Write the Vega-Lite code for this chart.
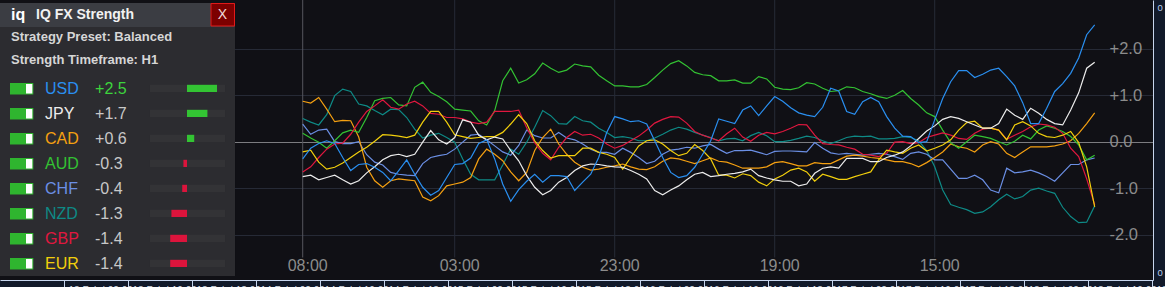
{
  "$schema": "https://vega.github.io/schema/vega-lite/v6.json",
  "width": 1153,
  "height": 280,
  "autosize": {"type": "none"},
  "padding": {"left": 0, "top": 0, "right": 12, "bottom": 7},
  "background": "#121a2a",
  "config": {"view": {"stroke": null, "fill": "#101015"}, "font": "Liberation Sans"},
  "datasets": {
    "times": [{"h":0,"t":"08:00"},{"h":19,"t":"03:00"},{"h":39,"t":"23:00"},{"h":59,"t":"19:00"},{"h":79,"t":"15:00"}],
    "strength": [{"c":"USD","s":2.5},{"c":"JPY","s":1.7},{"c":"CAD","s":0.6},{"c":"AUD","s":-0.3},{"c":"CHF","s":-0.4},{"c":"NZD","s":-1.3},{"c":"GBP","s":-1.4},{"c":"EUR","s":-1.4}],
    "fx": [
{"h":0,"USD":-0.37,"JPY":-0.75,"CAD":0.87,"AUD":0.18,"CHF":0.38,"NZD":0.50,"GBP":-0.65,"EUR":-0.22},
{"h":1,"USD":-0.14,"JPY":-0.72,"CAD":0.83,"AUD":0.08,"CHF":0.16,"NZD":0.42,"GBP":-0.54,"EUR":-0.18},
{"h":2,"USD":-0.04,"JPY":-0.82,"CAD":0.95,"AUD":-0.01,"CHF":0.25,"NZD":0.36,"GBP":-0.34,"EUR":-0.44},
{"h":3,"USD":0.02,"JPY":-0.77,"CAD":0.70,"AUD":-0.14,"CHF":0.27,"NZD":0.58,"GBP":-0.16,"EUR":-0.59},
{"h":4,"USD":-0.04,"JPY":-0.72,"CAD":0.43,"AUD":0.02,"CHF":0.00,"NZD":0.99,"GBP":-0.05,"EUR":-0.55},
{"h":5,"USD":-0.34,"JPY":-0.82,"CAD":0.46,"AUD":0.19,"CHF":-0.04,"NZD":1.13,"GBP":-0.03,"EUR":-0.46},
{"h":6,"USD":-0.62,"JPY":-0.91,"CAD":0.45,"AUD":0.25,"CHF":-0.04,"NZD":1.08,"GBP":0.16,"EUR":-0.34},
{"h":7,"USD":-0.49,"JPY":-0.84,"CAD":0.10,"AUD":0.20,"CHF":0.00,"NZD":0.81,"GBP":0.42,"EUR":-0.22},
{"h":8,"USD":-0.47,"JPY":-0.67,"CAD":-0.55,"AUD":0.52,"CHF":-0.28,"NZD":0.77,"GBP":0.65,"EUR":-0.12},
{"h":9,"USD":-0.55,"JPY":-0.54,"CAD":-0.84,"AUD":0.88,"CHF":-0.44,"NZD":0.67,"GBP":0.77,"EUR":0.01},
{"h":10,"USD":-0.66,"JPY":-0.39,"CAD":-0.98,"AUD":0.93,"CHF":-0.50,"NZD":0.58,"GBP":0.90,"EUR":0.15},
{"h":11,"USD":-0.84,"JPY":-0.30,"CAD":-0.84,"AUD":0.95,"CHF":-0.66,"NZD":0.70,"GBP":0.74,"EUR":0.14},
{"h":12,"USD":-0.62,"JPY":-0.27,"CAD":-0.80,"AUD":0.79,"CHF":-0.70,"NZD":0.69,"GBP":0.70,"EUR":0.12},
{"h":13,"USD":-0.39,"JPY":-0.32,"CAD":-0.82,"AUD":0.77,"CHF":-0.72,"NZD":0.52,"GBP":0.81,"EUR":0.09},
{"h":14,"USD":-0.70,"JPY":-0.27,"CAD":-0.84,"AUD":1.17,"CHF":-0.73,"NZD":0.27,"GBP":0.87,"EUR":0.14},
{"h":15,"USD":-0.98,"JPY":-0.01,"CAD":-1.19,"AUD":1.28,"CHF":-0.47,"NZD":0.08,"GBP":0.77,"EUR":0.42},
{"h":16,"USD":-1.15,"JPY":0.24,"CAD":-1.27,"AUD":1.06,"CHF":-0.34,"NZD":0.14,"GBP":0.61,"EUR":0.65},
{"h":17,"USD":-1.05,"JPY":0.04,"CAD":-1.16,"AUD":0.97,"CHF":-0.30,"NZD":0.18,"GBP":0.59,"EUR":0.65},
{"h":18,"USD":-0.77,"JPY":-0.05,"CAD":-0.95,"AUD":0.86,"CHF":-0.27,"NZD":0.09,"GBP":0.52,"EUR":0.42},
{"h":19,"USD":-0.49,"JPY":0.09,"CAD":-0.91,"AUD":0.70,"CHF":-0.16,"NZD":-0.01,"GBP":0.52,"EUR":0.15},
{"h":20,"USD":-0.47,"JPY":0.47,"CAD":-0.87,"AUD":0.68,"CHF":-0.01,"NZD":-0.37,"GBP":0.49,"EUR":0.11},
{"h":21,"USD":-0.35,"JPY":0.42,"CAD":-0.77,"AUD":0.66,"CHF":0.14,"NZD":-0.70,"GBP":0.42,"EUR":0.07},
{"h":22,"USD":-0.04,"JPY":0.14,"CAD":-0.37,"AUD":0.45,"CHF":0.16,"NZD":-0.82,"GBP":0.39,"EUR":0.09},
{"h":23,"USD":0.04,"JPY":0.04,"CAD":-0.16,"AUD":0.36,"CHF":0.04,"NZD":-0.82,"GBP":0.42,"EUR":0.11},
{"h":24,"USD":-0.37,"JPY":0.10,"CAD":-0.27,"AUD":0.67,"CHF":-0.09,"NZD":-0.82,"GBP":0.65,"EUR":0.11},
{"h":25,"USD":-0.91,"JPY":0.06,"CAD":-0.41,"AUD":1.31,"CHF":-0.22,"NZD":-0.50,"GBP":0.65,"EUR":0.20},
{"h":26,"USD":-1.28,"JPY":-0.19,"CAD":-0.65,"AUD":1.58,"CHF":-0.29,"NZD":-0.16,"GBP":0.65,"EUR":0.38},
{"h":27,"USD":-1.03,"JPY":-0.41,"CAD":-0.84,"AUD":1.26,"CHF":-0.08,"NZD":-0.27,"GBP":0.68,"EUR":0.58},
{"h":28,"USD":-0.85,"JPY":-0.73,"CAD":-0.66,"AUD":1.33,"CHF":0.25,"NZD":-0.01,"GBP":0.30,"EUR":0.39},
{"h":29,"USD":-0.70,"JPY":-0.98,"CAD":-0.19,"AUD":1.46,"CHF":0.13,"NZD":0.31,"GBP":-0.02,"EUR":0.02},
{"h":30,"USD":-0.87,"JPY":-1.14,"CAD":0.09,"AUD":1.69,"CHF":0.08,"NZD":0.67,"GBP":-0.25,"EUR":-0.19},
{"h":31,"USD":-0.73,"JPY":-1.05,"CAD":0.27,"AUD":1.58,"CHF":0.08,"NZD":0.56,"GBP":-0.39,"EUR":-0.35},
{"h":32,"USD":-0.73,"JPY":-0.87,"CAD":-0.05,"AUD":1.49,"CHF":0.20,"NZD":0.39,"GBP":-0.12,"EUR":-0.30},
{"h":33,"USD":-0.75,"JPY":-0.77,"CAD":-0.27,"AUD":1.54,"CHF":0.08,"NZD":0.38,"GBP":0.09,"EUR":-0.30},
{"h":34,"USD":-1.05,"JPY":-0.62,"CAD":-0.44,"AUD":1.67,"CHF":0.04,"NZD":0.54,"GBP":0.22,"EUR":-0.30},
{"h":35,"USD":-0.87,"JPY":-0.52,"CAD":-0.55,"AUD":1.63,"CHF":-0.05,"NZD":0.45,"GBP":0.14,"EUR":-0.14},
{"h":36,"USD":-0.70,"JPY":-0.48,"CAD":-0.61,"AUD":1.61,"CHF":-0.16,"NZD":0.42,"GBP":0.16,"EUR":-0.14},
{"h":37,"USD":-0.34,"JPY":-0.49,"CAD":-0.59,"AUD":1.43,"CHF":-0.23,"NZD":0.29,"GBP":0.08,"EUR":-0.23},
{"h":38,"USD":0.20,"JPY":-0.52,"CAD":-0.55,"AUD":1.31,"CHF":-0.23,"NZD":0.20,"GBP":-0.05,"EUR":-0.27},
{"h":39,"USD":0.54,"JPY":-0.54,"CAD":-0.52,"AUD":1.20,"CHF":-0.27,"NZD":0.09,"GBP":-0.14,"EUR":-0.34},
{"h":40,"USD":0.49,"JPY":-0.55,"CAD":-0.48,"AUD":1.20,"CHF":-0.14,"NZD":0.11,"GBP":-0.08,"EUR":-0.59},
{"h":41,"USD":0.43,"JPY":-0.62,"CAD":-0.54,"AUD":1.18,"CHF":-0.23,"NZD":0.08,"GBP":0.02,"EUR":-0.34},
{"h":42,"USD":0.45,"JPY":-0.70,"CAD":-0.59,"AUD":1.18,"CHF":-0.34,"NZD":0.02,"GBP":0.12,"EUR":-0.09},
{"h":43,"USD":0.38,"JPY":-0.80,"CAD":-0.60,"AUD":1.23,"CHF":-0.47,"NZD":0.02,"GBP":0.25,"EUR":0.02},
{"h":44,"USD":0.02,"JPY":-1.05,"CAD":-0.54,"AUD":1.38,"CHF":-0.42,"NZD":0.08,"GBP":0.40,"EUR":0.04},
{"h":45,"USD":-0.34,"JPY":-1.14,"CAD":-0.42,"AUD":1.54,"CHF":-0.27,"NZD":0.16,"GBP":0.48,"EUR":-0.05},
{"h":46,"USD":-0.66,"JPY":-1.04,"CAD":-0.35,"AUD":1.68,"CHF":-0.18,"NZD":0.25,"GBP":0.54,"EUR":-0.19},
{"h":47,"USD":-0.77,"JPY":-0.95,"CAD":-0.37,"AUD":1.74,"CHF":-0.16,"NZD":0.31,"GBP":0.53,"EUR":-0.30},
{"h":48,"USD":-0.73,"JPY":-0.82,"CAD":-0.42,"AUD":1.63,"CHF":-0.12,"NZD":0.27,"GBP":0.40,"EUR":-0.25},
{"h":49,"USD":-0.55,"JPY":-0.70,"CAD":-0.47,"AUD":1.49,"CHF":-0.14,"NZD":0.20,"GBP":0.22,"EUR":-0.06},
{"h":50,"USD":-0.27,"JPY":-0.66,"CAD":-0.41,"AUD":1.44,"CHF":-0.09,"NZD":0.14,"GBP":0.14,"EUR":-0.19},
{"h":51,"USD":0.02,"JPY":-0.75,"CAD":-0.35,"AUD":1.42,"CHF":-0.06,"NZD":0.09,"GBP":0.08,"EUR":-0.37},
{"h":52,"USD":0.49,"JPY":-0.73,"CAD":-0.42,"AUD":1.31,"CHF":-0.16,"NZD":0.02,"GBP":0.02,"EUR":-0.72},
{"h":53,"USD":0.44,"JPY":-0.70,"CAD":-0.44,"AUD":1.31,"CHF":-0.25,"NZD":0.06,"GBP":0.17,"EUR":-0.72},
{"h":54,"USD":0.39,"JPY":-0.68,"CAD":-0.50,"AUD":1.33,"CHF":-0.19,"NZD":0.07,"GBP":0.29,"EUR":-0.78},
{"h":55,"USD":0.68,"JPY":-0.65,"CAD":-0.57,"AUD":1.26,"CHF":-0.19,"NZD":0.02,"GBP":0.10,"EUR":-0.69},
{"h":56,"USD":0.77,"JPY":-0.59,"CAD":-0.57,"AUD":1.26,"CHF":-0.18,"NZD":0.13,"GBP":0.01,"EUR":-0.73},
{"h":57,"USD":0.56,"JPY":-0.73,"CAD":-0.57,"AUD":1.40,"CHF":-0.23,"NZD":0.20,"GBP":0.14,"EUR":-0.87},
{"h":58,"USD":0.77,"JPY":-0.78,"CAD":-0.54,"AUD":1.35,"CHF":-0.28,"NZD":0.13,"GBP":0.20,"EUR":-0.95},
{"h":59,"USD":0.97,"JPY":-0.82,"CAD":-0.45,"AUD":1.17,"CHF":-0.21,"NZD":0.00,"GBP":0.17,"EUR":-0.80},
{"h":60,"USD":0.87,"JPY":-0.85,"CAD":-0.43,"AUD":1.13,"CHF":-0.20,"NZD":0.00,"GBP":0.22,"EUR":-0.72},
{"h":61,"USD":0.73,"JPY":-0.85,"CAD":-0.47,"AUD":1.12,"CHF":-0.20,"NZD":0.03,"GBP":0.29,"EUR":-0.61},
{"h":62,"USD":0.62,"JPY":-0.95,"CAD":-0.52,"AUD":1.16,"CHF":-0.21,"NZD":0.07,"GBP":0.37,"EUR":-0.57},
{"h":63,"USD":0.57,"JPY":-0.91,"CAD":-0.52,"AUD":1.27,"CHF":-0.22,"NZD":0.12,"GBP":0.36,"EUR":-0.65},
{"h":64,"USD":0.54,"JPY":-0.68,"CAD":-0.45,"AUD":1.24,"CHF":-0.02,"NZD":0.09,"GBP":0.14,"EUR":-0.85},
{"h":65,"USD":0.74,"JPY":-0.57,"CAD":-0.47,"AUD":1.15,"CHF":-0.14,"NZD":0.02,"GBP":-0.04,"EUR":-0.70},
{"h":66,"USD":1.15,"JPY":-0.54,"CAD":-0.47,"AUD":1.08,"CHF":-0.24,"NZD":-0.04,"GBP":-0.06,"EUR":-0.75},
{"h":67,"USD":1.09,"JPY":-0.57,"CAD":-0.39,"AUD":1.10,"CHF":-0.27,"NZD":0.02,"GBP":-0.07,"EUR":-0.81},
{"h":68,"USD":0.65,"JPY":-0.36,"CAD":-0.31,"AUD":1.18,"CHF":-0.25,"NZD":0.09,"GBP":-0.12,"EUR":-0.81},
{"h":69,"USD":0.59,"JPY":-0.36,"CAD":-0.29,"AUD":1.16,"CHF":-0.27,"NZD":0.12,"GBP":-0.16,"EUR":-0.75},
{"h":70,"USD":0.86,"JPY":-0.36,"CAD":-0.31,"AUD":1.08,"CHF":-0.29,"NZD":0.11,"GBP":-0.27,"EUR":-0.70},
{"h":71,"USD":0.95,"JPY":-0.43,"CAD":-0.34,"AUD":1.03,"CHF":-0.27,"NZD":0.12,"GBP":-0.29,"EUR":-0.65},
{"h":72,"USD":0.86,"JPY":-0.43,"CAD":-0.36,"AUD":0.97,"CHF":-0.25,"NZD":0.06,"GBP":-0.32,"EUR":-0.39},
{"h":73,"USD":0.54,"JPY":-0.34,"CAD":-0.39,"AUD":0.93,"CHF":-0.27,"NZD":0.06,"GBP":-0.25,"EUR":-0.18},
{"h":74,"USD":0.29,"JPY":-0.29,"CAD":-0.43,"AUD":1.00,"CHF":-0.32,"NZD":0.07,"GBP":-0.01,"EUR":-0.22},
{"h":75,"USD":0.12,"JPY":-0.22,"CAD":-0.43,"AUD":1.10,"CHF":-0.38,"NZD":0.11,"GBP":0.00,"EUR":-0.25},
{"h":76,"USD":0.11,"JPY":-0.09,"CAD":-0.47,"AUD":0.93,"CHF":-0.25,"NZD":0.09,"GBP":-0.04,"EUR":-0.14},
{"h":77,"USD":-0.02,"JPY":0.07,"CAD":-0.54,"AUD":0.79,"CHF":-0.22,"NZD":0.02,"GBP":-0.02,"EUR":-0.07},
{"h":78,"USD":0.00,"JPY":0.23,"CAD":-0.45,"AUD":0.62,"CHF":-0.27,"NZD":-0.19,"GBP":0.09,"EUR":-0.20},
{"h":79,"USD":0.47,"JPY":0.34,"CAD":-0.34,"AUD":0.54,"CHF":-0.39,"NZD":-0.54,"GBP":0.14,"EUR":-0.14},
{"h":80,"USD":0.93,"JPY":0.48,"CAD":-0.22,"AUD":0.25,"CHF":-0.39,"NZD":-1.04,"GBP":0.19,"EUR":-0.07},
{"h":81,"USD":1.29,"JPY":0.54,"CAD":-0.05,"AUD":-0.02,"CHF":-0.59,"NZD":-1.35,"GBP":0.14,"EUR":0.04},
{"h":82,"USD":1.53,"JPY":0.50,"CAD":-0.11,"AUD":-0.14,"CHF":-0.79,"NZD":-1.41,"GBP":0.07,"EUR":0.25},
{"h":83,"USD":1.53,"JPY":0.43,"CAD":-0.14,"AUD":0.00,"CHF":-0.79,"NZD":-1.46,"GBP":0.05,"EUR":0.41},
{"h":84,"USD":1.38,"JPY":0.36,"CAD":-0.22,"AUD":0.14,"CHF":-0.72,"NZD":-1.54,"GBP":0.18,"EUR":0.44},
{"h":85,"USD":1.45,"JPY":0.29,"CAD":-0.07,"AUD":0.11,"CHF":-0.82,"NZD":-1.51,"GBP":0.27,"EUR":0.29},
{"h":86,"USD":1.54,"JPY":0.29,"CAD":0.00,"AUD":0.07,"CHF":-1.04,"NZD":-1.40,"GBP":0.29,"EUR":0.29},
{"h":87,"USD":1.58,"JPY":0.39,"CAD":-0.05,"AUD":0.00,"CHF":-1.10,"NZD":-1.25,"GBP":0.25,"EUR":0.25},
{"h":88,"USD":1.40,"JPY":0.70,"CAD":-0.25,"AUD":-0.07,"CHF":-0.57,"NZD":-1.13,"GBP":0.05,"EUR":0.04},
{"h":89,"USD":1.20,"JPY":0.57,"CAD":-0.34,"AUD":0.01,"CHF":-0.67,"NZD":-1.23,"GBP":0.14,"EUR":0.36},
{"h":90,"USD":0.84,"JPY":0.48,"CAD":-0.22,"AUD":0.14,"CHF":-0.65,"NZD":-1.18,"GBP":0.22,"EUR":0.43},
{"h":91,"USD":0.39,"JPY":0.72,"CAD":-0.11,"AUD":0.06,"CHF":-0.61,"NZD":-1.04,"GBP":0.32,"EUR":0.34},
{"h":92,"USD":0.39,"JPY":0.61,"CAD":-0.11,"AUD":0.25,"CHF":-0.67,"NZD":-1.00,"GBP":0.38,"EUR":0.18},
{"h":93,"USD":0.72,"JPY":0.48,"CAD":-0.11,"AUD":0.34,"CHF":-0.75,"NZD":-1.06,"GBP":0.36,"EUR":0.11},
{"h":94,"USD":1.08,"JPY":0.39,"CAD":-0.09,"AUD":0.29,"CHF":-0.85,"NZD":-1.11,"GBP":0.31,"EUR":0.09},
{"h":95,"USD":1.25,"JPY":0.36,"CAD":-0.05,"AUD":0.22,"CHF":-0.67,"NZD":-1.41,"GBP":0.18,"EUR":0.14},
{"h":96,"USD":1.47,"JPY":0.68,"CAD":0.02,"AUD":0.11,"CHF":-0.49,"NZD":-1.61,"GBP":-0.14,"EUR":0.22},
{"h":97,"USD":1.80,"JPY":1.05,"CAD":0.18,"AUD":-0.07,"CHF":-0.49,"NZD":-1.74,"GBP":-0.32,"EUR":-0.02},
{"h":98,"USD":2.30,"JPY":1.58,"CAD":0.39,"AUD":-0.39,"CHF":-0.39,"NZD":-1.73,"GBP":-0.80,"EUR":-0.54},
{"h":99,"USD":2.51,"JPY":1.71,"CAD":0.62,"AUD":-0.29,"CHF":-0.35,"NZD":-1.38,"GBP":-1.36,"EUR":-1.40}
    ]
  },
  "layer": [
    {
      "data": {"name": "times"},
      "transform": [{"calculate": "3.047", "as": "yt"}, {"calculate": "-2.49", "as": "yb"}],
      "mark": {"type": "rule", "strokeWidth": 1},
      "encoding": {
        "x": {"field": "h", "type": "quantitative", "title": null, "scale": {"domain": [-37.84, 106.29], "nice": false, "zero": false}},
        "y": {"field": "yt", "type": "quantitative", "title": null, "scale": {"domain": [-2.974, 3.047], "nice": false, "zero": false}},
        "y2": {"field": "yb"},
        "color": {"condition": {"test": "datum.h == 0", "value": "#56565e"}, "value": "#262a36"}
      }
    },
    {
      "data": {"name": "times"},
      "transform": [{"calculate": "-2.669", "as": "ty"}],
      "mark": {"type": "text", "dx": 5, "fontSize": 16, "align": "center", "baseline": "middle", "color": "#8c8c8c"},
      "encoding": {
        "x": {"field": "h", "type": "quantitative", "title": null},
        "y": {"field": "ty", "type": "quantitative", "title": null},
        "text": {"field": "t", "type": "nominal"}
      }
    },
    {
      "data": {"name": "fx"},
      "transform": [{"fold": ["NZD", "CHF", "CAD", "AUD", "GBP", "EUR", "JPY", "USD"], "as": ["c", "v"]}],
      "mark": {"type": "line", "strokeWidth": 1.2},
      "encoding": {
        "x": {
          "field": "h", "type": "quantitative", "title": null,
          "axis": {
            "orient": "bottom",
            "values": [-29.84, -21.84, -13.84, -5.84, 2.16, 10.16, 18.16, 26.16, 34.16, 42.16, 50.16, 58.16, 66.16, 74.16, 82.16, 90.16, 98.16, 106.16],
            "grid": false, "domain": true, "domainColor": "#c8d6ee", "ticks": true, "tickSize": 7, "tickColor": "#c8d6ee",
            "labelExpr": "timeFormat(time(datetime(2024,1,14,8)) + datum.value*3600000, '%d %b | %H:%M')",
            "labelAlign": "left", "labelBaseline": "top", "labelPadding": -2, "labelOffset": 4,
            "labelFontSize": 10, "labelColor": "#d8dfe9", "labelFlush": false, "labelOverlap": false, "labelBound": false
          }
        },
        "y": {
          "field": "v", "type": "quantitative", "title": null,
          "axis": {
            "orient": "right",
            "values": [-2.82, -2, -1, 0, 1, 2, 2.89],
            "labelExpr": "abs(datum.value) > 2.5 ? '0' : (datum.value > 0 ? '+' : (datum.value < 0 ? '-' : '')) + format(abs(datum.value), '.1f')",
            "domain": true, "domainColor": "#c8d6ee",
            "ticks": false, "tickSize": 0,
            "grid": true,
            "gridColor": {"condition": {"test": "datum.value == 0", "value": "#7c7c80"}, "value": "#262a36"},
            "gridOpacity": {"condition": {"test": "abs(datum.value) > 2.5", "value": 0}, "value": 1},
            "labelAlign": "left",
            "labelPadding": {"condition": {"test": "abs(datum.value) > 2.5", "value": 4}, "value": -44},
            "labelFontSize": {"condition": {"test": "abs(datum.value) > 2.5", "value": 9.5}, "value": 16.5},
            "labelColor": {"condition": {"test": "abs(datum.value) > 2.5", "value": "#b8cdf0"}, "value": "#8c8c8c"},
            "labelBaseline": "middle", "labelFlush": false, "labelOverlap": false, "labelBound": false
          }
        },
        "color": {
          "field": "c", "type": "nominal", "legend": null,
          "scale": {"domain": ["USD", "JPY", "CAD", "AUD", "CHF", "NZD", "GBP", "EUR"], "range": ["#2a8ff0", "#ececec", "#f5a011", "#33c233", "#6b8fe4", "#0e8a86", "#e0173f", "#f2cf0c"]}
        }
      }
    },
    {
      "data": {"values": [{"part": "panel"}]},
      "transform": [{"calculate": "-37.84", "as": "x1"}, {"calculate": "-8.4625", "as": "x2"}, {"calculate": "2.982", "as": "y1"}, {"calculate": "-2.888", "as": "y2"}],
      "mark": {"type": "rect", "fill": "#2c2c30"},
      "encoding": {"x": {"field": "x1", "type": "quantitative", "title": null}, "x2": {"field": "x2"}, "y": {"field": "y1", "type": "quantitative", "title": null}, "y2": {"field": "y2"}}
    },
    {
      "data": {"values": [{"part": "titlebar"}]},
      "transform": [{"calculate": "-37.84", "as": "x1"}, {"calculate": "-8.4625", "as": "x2"}, {"calculate": "2.982", "as": "y1"}, {"calculate": "2.466", "as": "y2"}],
      "mark": {"type": "rect", "fill": "#3b3d43"},
      "encoding": {"x": {"field": "x1", "type": "quantitative", "title": null}, "x2": {"field": "x2"}, "y": {"field": "y1", "type": "quantitative", "title": null}, "y2": {"field": "y2"}}
    },
    {
      "data": {"values": [{"part": "close"}]},
      "transform": [{"calculate": "-11.4625", "as": "x1"}, {"calculate": "-8.525", "as": "x2"}, {"calculate": "2.972", "as": "y1"}, {"calculate": "2.488", "as": "y2"}],
      "mark": {"type": "rect", "fill": "#7c0000", "stroke": "#e21a1a", "strokeWidth": 1},
      "encoding": {"x": {"field": "x1", "type": "quantitative", "title": null}, "x2": {"field": "x2"}, "y": {"field": "y1", "type": "quantitative", "title": null}, "y2": {"field": "y2"}}
    },
    {
      "data": {"values": [{"txt": "X"}]},
      "transform": [{"calculate": "-10.025", "as": "px"}, {"calculate": "2.714", "as": "py"}],
      "mark": {"type": "text", "align": "center", "baseline": "middle", "fontSize": 14, "color": "#f0dada"},
      "encoding": {"x": {"field": "px", "type": "quantitative", "title": null}, "y": {"field": "py", "type": "quantitative", "title": null}, "text": {"field": "txt", "type": "nominal"}}
    },
    {
      "data": {"values": [{"txt": "iq"}]},
      "transform": [{"calculate": "-36.46", "as": "px"}, {"calculate": "2.72", "as": "py"}],
      "mark": {"type": "text", "align": "left", "baseline": "middle", "fontSize": 16, "fontWeight": "bold", "color": "#ffffff"},
      "encoding": {"x": {"field": "px", "type": "quantitative", "title": null}, "y": {"field": "py", "type": "quantitative", "title": null}, "text": {"field": "txt", "type": "nominal"}}
    },
    {
      "data": {"values": [{"txt": "IQ FX Strength"}]},
      "transform": [{"calculate": "-33.34", "as": "px"}, {"calculate": "2.714", "as": "py"}],
      "mark": {"type": "text", "align": "left", "baseline": "middle", "fontSize": 14, "fontWeight": "bold", "color": "#f2f2f2"},
      "encoding": {"x": {"field": "px", "type": "quantitative", "title": null}, "y": {"field": "py", "type": "quantitative", "title": null}, "text": {"field": "txt", "type": "nominal"}}
    },
    {
      "data": {"values": [{"txt": "Strategy Preset: Balanced"}, {"txt": "Strength Timeframe: H1"}]},
      "transform": [{"calculate": "-36.46", "as": "px"}, {"calculate": "datum.txt == 'Strategy Preset: Balanced' ? 2.251 : 1.767", "as": "py"}],
      "mark": {"type": "text", "align": "left", "baseline": "middle", "fontSize": 13, "fontWeight": "bold", "color": "#d6d6d6"},
      "encoding": {"x": {"field": "px", "type": "quantitative", "title": null}, "y": {"field": "py", "type": "quantitative", "title": null}, "text": {"field": "txt", "type": "nominal"}}
    },
    {
      "data": {"name": "strength"},
      "transform": [
        {"window": [{"op": "row_number", "as": "row"}], "sort": [{"field": "s", "order": "descending"}, {"field": "c", "order": "descending"}]},
        {"calculate": "1.6707 - 0.5376*datum.row", "as": "yc"},
        {"calculate": "-36.59", "as": "x1"}, {"calculate": "-33.675", "as": "x2"},
        {"calculate": "datum.yc + 0.129", "as": "y1"}, {"calculate": "datum.yc - 0.118", "as": "y2"}
      ],
      "mark": {"type": "rect", "fill": "#2fb52f"},
      "encoding": {"x": {"field": "x1", "type": "quantitative", "title": null}, "x2": {"field": "x2"}, "y": {"field": "y1", "type": "quantitative", "title": null}, "y2": {"field": "y2"}}
    },
    {
      "data": {"name": "strength"},
      "transform": [
        {"window": [{"op": "row_number", "as": "row"}], "sort": [{"field": "s", "order": "descending"}, {"field": "c", "order": "descending"}]},
        {"calculate": "1.6707 - 0.5376*datum.row", "as": "yc"},
        {"calculate": "-34.59", "as": "x1"}, {"calculate": "-33.8", "as": "x2"},
        {"calculate": "datum.yc + 0.1075", "as": "y1"}, {"calculate": "datum.yc - 0.0968", "as": "y2"}
      ],
      "mark": {"type": "rect", "fill": "#ffffff"},
      "encoding": {"x": {"field": "x1", "type": "quantitative", "title": null}, "x2": {"field": "x2"}, "y": {"field": "y1", "type": "quantitative", "title": null}, "y2": {"field": "y2"}}
    },
    {
      "data": {"name": "strength"},
      "transform": [
        {"window": [{"op": "row_number", "as": "row"}], "sort": [{"field": "s", "order": "descending"}, {"field": "c", "order": "descending"}]},
        {"calculate": "1.6707 - 0.5376*datum.row", "as": "yc"},
        {"calculate": "-19.09", "as": "x1"}, {"calculate": "-9.71", "as": "x2"},
        {"calculate": "datum.yc + 0.0903", "as": "y1"}, {"calculate": "datum.yc - 0.0645", "as": "y2"}
      ],
      "mark": {"type": "rect", "fill": "#333336"},
      "encoding": {"x": {"field": "x1", "type": "quantitative", "title": null}, "x2": {"field": "x2"}, "y": {"field": "y1", "type": "quantitative", "title": null}, "y2": {"field": "y2"}}
    },
    {
      "data": {"name": "strength"},
      "transform": [
        {"window": [{"op": "row_number", "as": "row"}], "sort": [{"field": "s", "order": "descending"}, {"field": "c", "order": "descending"}]},
        {"calculate": "1.6707 - 0.5376*datum.row", "as": "yc"},
        {"calculate": "-14.4625", "as": "x1"}, {"calculate": "-14.4625 + 1.5*datum.s", "as": "x2"},
        {"calculate": "datum.yc + 0.0903", "as": "y1"}, {"calculate": "datum.yc - 0.0645", "as": "y2"}
      ],
      "mark": {"type": "rect"},
      "encoding": {
        "x": {"field": "x1", "type": "quantitative", "title": null}, "x2": {"field": "x2"},
        "y": {"field": "y1", "type": "quantitative", "title": null}, "y2": {"field": "y2"},
        "color": {"condition": {"test": "datum.s > 0", "value": "#33c433"}, "value": "#dc143c"}
      }
    },
    {
      "data": {"name": "strength"},
      "transform": [
        {"window": [{"op": "row_number", "as": "row"}], "sort": [{"field": "s", "order": "descending"}, {"field": "c", "order": "descending"}]},
        {"calculate": "1.6707 - 0.5376*datum.row", "as": "yc"},
        {"calculate": "-32.21", "as": "px"}
      ],
      "mark": {"type": "text", "align": "left", "baseline": "middle", "fontSize": 16},
      "encoding": {
        "x": {"field": "px", "type": "quantitative", "title": null},
        "y": {"field": "yc", "type": "quantitative", "title": null},
        "text": {"field": "c", "type": "nominal"},
        "color": {"field": "c", "type": "nominal", "legend": null}
      }
    },
    {
      "data": {"name": "strength"},
      "transform": [
        {"window": [{"op": "row_number", "as": "row"}], "sort": [{"field": "s", "order": "descending"}, {"field": "c", "order": "descending"}]},
        {"calculate": "1.6707 - 0.5376*datum.row", "as": "yc"},
        {"calculate": "-25.96", "as": "px"},
        {"calculate": "(datum.s > 0 ? '+' : '-') + format(abs(datum.s), '.1f')", "as": "lbl"}
      ],
      "mark": {"type": "text", "align": "left", "baseline": "middle", "fontSize": 16},
      "encoding": {
        "x": {"field": "px", "type": "quantitative", "title": null},
        "y": {"field": "yc", "type": "quantitative", "title": null},
        "text": {"field": "lbl", "type": "nominal"},
        "color": {"condition": {"test": "datum.s >= 2", "value": "#3dd43d"}, "value": "#c8c8c8"}
      }
    }
  ]
}
